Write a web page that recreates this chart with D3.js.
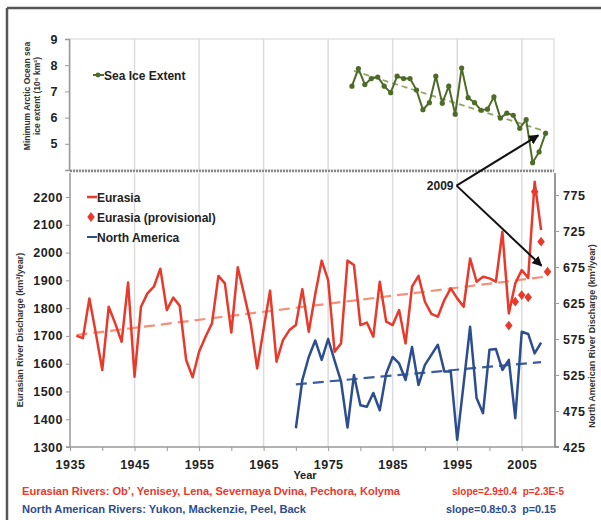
<!DOCTYPE html>
<html>
<head>
<meta charset="utf-8">
<script src="https://cdn.jsdelivr.net/npm/d3@7"></script>
<style>
  body { margin: 0; background: #fff; }
  text { font-family: "Liberation Sans", Arial, sans-serif; font-weight: bold; }
</style>
</head>
<body>
<div id="chart"></div>
<script>
// ---- data ----
const eurYears = d3.range(1936, 2009);
const eurValues = [1700, 1692, 1835, 1710, 1577, 1805, 1745, 1679, 1892, 1553,
  1805, 1853, 1877, 1942, 1793, 1838, 1808, 1613, 1551, 1643,
  1697, 1745, 1916, 1889, 1712, 1947, 1847, 1745, 1583, 1725,
  1863, 1607, 1685, 1721, 1739, 1868, 1715, 1850, 1971, 1901,
  1643, 1673, 1971, 1955, 1739, 1748, 1697, 1895, 1751, 1739,
  1793, 1673, 1877, 1916, 1823, 1779, 1769, 1829, 1871, 1835,
  1805, 1979, 1895, 1913, 1907, 1895, 2075, 1781, 1889, 1937,
  1909, 2255, 2081];
const provYears = [2003, 2004, 2005, 2006, 2007, 2008, 2009];
const provValues = [1737, 1823, 1847, 1839, 2219, 2039, 1931];
const naYears = d3.range(1970, 2009);
const naValues = [451, 518, 550, 573, 546, 575, 545, 516, 452, 525,
  483, 481, 500, 476, 527, 550, 541, 518, 564, 511,
  539, 553, 567, 530, 530, 435, 513, 592, 493, 472,
  560, 561, 532, 546, 465, 585, 582, 555, 570];
const iceYears = d3.range(1979, 2010);
const iceValues = [7.20, 7.87, 7.26, 7.49, 7.55, 7.20, 6.95, 7.58, 7.49, 7.49,
  7.05, 6.30, 6.57, 7.58, 6.55, 7.20, 6.13, 7.89, 6.76, 6.57,
  6.28, 6.32, 6.79, 5.98, 6.17, 6.09, 5.59, 5.92, 4.28, 4.69, 5.40];
// trend end points
const eurTrend = [[1936, 1703], [2009, 1914]];
const naTrend = [[1970, 512], [2008, 543]];
const iceTrend = [[1979, 7.78], [2009, 5.45]];

const leftTicks = d3.range(1300, 2201, 100);
const rightTicks = [425, 475, 525, 575, 625, 675, 725, 775];
const iceTicks = [5, 6, 7, 8, 9];
const yearLabels = d3.range(1935, 2006, 10);

const red = "#e8392b", blue = "#2c4d8e", green = "#4e6b28";

const svg = d3.select("#chart").append("svg")
  .attr("width", 601).attr("height", 520);

// scales
const x = d3.scaleLinear().domain([1935, 2010]).range([70, 554]);
const yL = d3.scaleLinear().domain([1300, 2200]).range([447, 197]);
const yR = d3.scaleLinear().domain([425, 775]).range([447, 195]);
const yI = d3.scaleLinear().domain([4, 9]).range([170, 39]);

// outer frame (top and left edges)
svg.append("line").attr("x1", 7).attr("x2", 601).attr("y1", 8).attr("y2", 8)
  .attr("stroke", "#555").attr("stroke-width", 2.5);
svg.append("line").attr("x1", 7).attr("x2", 7).attr("y1", 8).attr("y2", 520)
  .attr("stroke", "#555").attr("stroke-width", 2.5);

// ---------- top panel ----------
svg.append("rect").attr("x", x(1935)).attr("y", yI(9))
  .attr("width", x(2010) - x(1935)).attr("height", yI(4) - yI(9))
  .attr("fill", "none").attr("stroke", "#e2e2e2").attr("stroke-width", 1.5);
svg.append("g").selectAll("line").data(yearLabels.slice(1)).join("line")
  .attr("x1", d => x(d)).attr("x2", d => x(d))
  .attr("y1", yI(9)).attr("y2", yI(4))
  .attr("stroke", "#dcdcdc").attr("stroke-width", 1.5);

function styleAxis(g) {
  g.select(".domain").attr("stroke", "#999").attr("stroke-width", 1.5);
  g.selectAll(".tick line").attr("stroke", "#999");
  g.selectAll("text").attr("font-size", 12.5).attr("fill", "#222")
    .style("letter-spacing", "0.5px")
    .style("font-family", "'Liberation Sans', Arial, sans-serif").style("font-weight", "bold");
}

const iceAxis = svg.append("g").attr("transform", `translate(${x(1935) - 1},0)`)
  .call(d3.axisLeft(yI).tickValues(iceTicks).tickSize(4).tickPadding(7).tickFormat(d3.format("d")));
styleAxis(iceAxis);

svg.append("path")
  .attr("d", d3.line().x(d => x(d[0])).y(d => yI(d[1]))(iceTrend))
  .attr("fill", "none").attr("stroke", "#8fa56a").attr("stroke-width", 1.8)
  .attr("stroke-dasharray", "6,4");
svg.append("path")
  .datum(iceYears.map((yr, i) => [yr, iceValues[i]]))
  .attr("d", d3.line().x(d => x(d[0]) - 2).y(d => yI(d[1])))
  .attr("fill", "none").attr("stroke", green).attr("stroke-width", 2);
svg.append("g").selectAll("circle").data(iceYears).join("circle")
  .attr("cx", d => x(d) - 2).attr("cy", (d, i) => yI(iceValues[i]))
  .attr("r", 2.6).attr("fill", green);

// top legend
svg.append("line").attr("x1", 93).attr("x2", 104).attr("y1", 75).attr("y2", 75)
  .attr("stroke", green).attr("stroke-width", 2);
svg.append("circle").attr("cx", 98).attr("cy", 75).attr("r", 2.4).attr("fill", green);
svg.append("text").attr("x", 104).attr("y", 79.5).attr("font-size", 12)
  .attr("fill", "#222").text("Sea Ice Extent");

// top y title
const iceTitle = svg.append("text").attr("transform", "translate(30,96) rotate(-90)")
  .attr("text-anchor", "middle").attr("font-size", 8.5).attr("fill", "#333");
iceTitle.append("tspan").attr("x", 0).attr("dy", 0).text("Minimum Arctic Ocean sea");
iceTitle.append("tspan").attr("x", 0).attr("dy", 9.5).text("ice extent (10⁶ km²)");

// separator between the panels
svg.append("line").attr("x1", x(1935)).attr("x2", x(2010)).attr("y1", 171).attr("y2", 171)
  .attr("stroke", "#888").attr("stroke-width", 2.5).attr("stroke-dasharray", "2,1");

// ---------- bottom panel ----------
svg.append("g").selectAll("line").data(yearLabels.slice(1)).join("line")
  .attr("x1", d => x(d)).attr("x2", d => x(d))
  .attr("y1", 173).attr("y2", yL(1300))
  .attr("stroke", "#dcdcdc").attr("stroke-width", 1.5);

const leftAxis = svg.append("g").attr("transform", `translate(${x(1935)},0)`)
  .call(d3.axisLeft(yL).tickValues(leftTicks).tickSize(4).tickPadding(3).tickFormat(d3.format("d")));
leftAxis.select(".domain").attr("d", `M-4,${yL(1300)}H0V173`);
styleAxis(leftAxis);

const rightAxis = svg.append("g").attr("transform", `translate(${x(2010) + 1},0)`)
  .call(d3.axisRight(yR).tickValues(rightTicks).tickSize(4).tickPadding(4).tickFormat(d3.format("d")));
rightAxis.select(".domain").attr("d", `M4,${yR(425)}H0V173`);
styleAxis(rightAxis);
rightAxis.select(".domain").attr("stroke", "#777");

const bottomAxis = svg.append("g").attr("transform", `translate(0,${yL(1300)})`)
  .call(d3.axisBottom(x).tickValues(d3.range(1935, 2010, 5)).tickSize(4).tickPadding(9)
    .tickFormat(d => yearLabels.includes(d) ? d : ""));
bottomAxis.select(".domain").attr("d", `M${x(1935)},0H${x(2010) + 1}`);
styleAxis(bottomAxis);

// trend lines
const trendLine = d3.line().x(d => x(d[0]));
svg.append("path").attr("d", trendLine.y(d => yL(d[1]))(eurTrend))
  .attr("fill", "none").attr("stroke", "#f4907a").attr("stroke-width", 2.2)
  .attr("stroke-dasharray", "11,6");
svg.append("path").attr("d", trendLine.y(d => yR(d[1]))(naTrend))
  .attr("fill", "none").attr("stroke", "#3d5c9c").attr("stroke-width", 2.2)
  .attr("stroke-dasharray", "11,6");

// series
svg.append("path")
  .datum(eurYears.map((yr, i) => [yr, eurValues[i]]))
  .attr("d", d3.line().x(d => x(d[0])).y(d => yL(d[1])))
  .attr("fill", "none").attr("stroke", red).attr("stroke-width", 2.5)
  .attr("stroke-linejoin", "round");
svg.append("path")
  .datum(naYears.map((yr, i) => [yr, naValues[i]]))
  .attr("d", d3.line().x(d => x(d[0])).y(d => yR(d[1])))
  .attr("fill", "none").attr("stroke", blue).attr("stroke-width", 2.5)
  .attr("stroke-linejoin", "round");
const diamond = d3.symbol().type(d3.symbolDiamond).size(34);
svg.append("g").selectAll("path").data(provYears).join("path")
  .attr("d", diamond)
  .attr("transform", (d, i) => `translate(${x(d)},${yL(provValues[i])}) scale(1.2,0.9)`)
  .attr("fill", red);

// legend
const legend = svg.append("g");
legend.append("line").attr("x1", 87).attr("x2", 97).attr("y1", 197).attr("y2", 197)
  .attr("stroke", red).attr("stroke-width", 2.5);
legend.append("text").attr("x", 97).attr("y", 201.5).attr("font-size", 12).attr("fill", "#222").text("Eurasia");
legend.append("path").attr("d", diamond).attr("transform", "translate(91,217) scale(1.2,0.9)").attr("fill", red);
legend.append("text").attr("x", 97).attr("y", 221.5).attr("font-size", 12).attr("fill", "#222").text("Eurasia (provisional)");
legend.append("line").attr("x1", 87).attr("x2", 97).attr("y1", 237).attr("y2", 237)
  .attr("stroke", blue).attr("stroke-width", 2);
legend.append("text").attr("x", 97).attr("y", 241.5).attr("font-size", 12).attr("fill", "#222").text("North America");

// axis titles
svg.append("text").attr("transform", "translate(23,330) rotate(-90)")
  .attr("text-anchor", "middle").attr("font-size", 9).attr("fill", "#333")
  .text("Eurasian River Discharge (km³/year)");
svg.append("text").attr("transform", "translate(595,336) rotate(-90)")
  .attr("text-anchor", "middle").attr("font-size", 9).attr("fill", "#333")
  .text("North American River Discharge (km³/year)");
svg.append("text").attr("x", 305).attr("y", 479).attr("text-anchor", "middle")
  .attr("font-size", 11).attr("fill", "#222").text("Year");

// 2009 annotation
const ax = x(1994.9), ay = yL(2241);
svg.append("defs").append("marker").attr("id", "arrow")
  .attr("viewBox", "0 0 10 10").attr("refX", 9).attr("refY", 5)
  .attr("markerWidth", 5).attr("markerHeight", 5).attr("orient", "auto")
  .append("path").attr("d", "M0,0L10,5L0,10z").attr("fill", "#111");
svg.append("line").attr("x1", ax).attr("y1", ay)
  .attr("x2", x(2008.5) - 6).attr("y2", yI(iceValues[30]) + 2)
  .attr("stroke", "#111").attr("stroke-width", 2).attr("marker-end", "url(#arrow)");
svg.append("line").attr("x1", ax).attr("y1", ay)
  .attr("x2", x(2009) - 6).attr("y2", yL(provValues[6]) - 6)
  .attr("stroke", "#111").attr("stroke-width", 2).attr("marker-end", "url(#arrow)");
svg.append("text").attr("x", ax - 3).attr("y", ay + 4.5).attr("text-anchor", "end")
  .attr("font-size", 12).attr("fill", "#222").text("2009");

// footnotes
svg.append("text").attr("x", 22).attr("y", 495).attr("font-size", 10).attr("fill", red)
  .attr("textLength", 378).attr("lengthAdjust", "spacingAndGlyphs")
  .text("Eurasian Rivers: Ob’, Yenisey, Lena, Severnaya Dvina, Pechora, Kolyma");
svg.append("text").attr("x", 452).attr("y", 495).attr("font-size", 10).attr("fill", red)
  .attr("xml:space", "preserve").attr("textLength", 112).attr("lengthAdjust", "spacingAndGlyphs")
  .text("slope=2.9±0.4  p=2.3E-5");
svg.append("text").attr("x", 22).attr("y", 513).attr("font-size", 10).attr("fill", blue)
  .attr("textLength", 284).attr("lengthAdjust", "spacingAndGlyphs")
  .text("North American Rivers: Yukon, Mackenzie, Peel, Back");
svg.append("text").attr("x", 446).attr("y", 513).attr("font-size", 10).attr("fill", blue)
  .attr("xml:space", "preserve").attr("textLength", 110).attr("lengthAdjust", "spacingAndGlyphs")
  .text("slope=0.8±0.3  p=0.15");
</script>
</body>
</html>
